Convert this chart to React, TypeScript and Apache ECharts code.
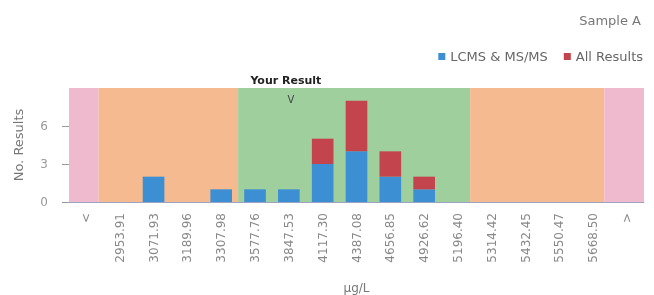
import React, { useEffect, useRef } from "react";
import * as echarts from "echarts";

const categories = [
  "<", "2953.91", "3071.93", "3189.96", "3307.98", "3577.76", "3847.53", "4117.30",
  "4387.08", "4656.85", "4926.62", "5196.40", "5314.42", "5432.45", "5550.47", "5668.50", ">",
];
const lcmsValues = [0, 0, 2, 0, 1, 1, 1, 3, 4, 2, 1, 0, 0, 0, 0, 0, 0];
const allResultsExtra = [0, 0, 0, 0, 0, 0, 0, 2, 4, 2, 1, 0, 0, 0, 0, 0, 0];
const yTicks = [0, 3, 6, 9];
// zone boundaries in category-slot units (0 .. 17)
const zoneRanges: [number, number][] = [[0, 0.88], [0.88, 5], [5, 11.86], [11.86, 15.83], [15.83, 17]];
const zoneKinds = ["outer", "warn", "ok", "warn", "outer"];
const yourResultCategory = "3847.53";

const zoneColor: Record<string, string> = {
  outer: "#efbacd",
  warn: "#f5ba8f",
  ok: "#9fcf9c",
};

export default function App() {
  const ref = useRef<HTMLDivElement>(null);
  useEffect(() => {
    if (!ref.current) return;
    const chart = echarts.init(ref.current, undefined, { renderer: "svg" });
    const font = "'DejaVu Sans', 'Liberation Sans', Arial, sans-serif";
    chart.setOption({
      animation: false,
      textStyle: { fontFamily: font },
      title: {
        text: "Sample A",
        right: 8,
        top: 9,
        textStyle: { fontSize: 13, fontWeight: "normal", color: "#777", fontFamily: font },
      },
      legend: {
        data: ["LCMS & MS/MS", "All Results"],
        right: 6,
        top: 45,
        itemWidth: 7,
        itemHeight: 7,
        itemGap: 16,
        icon: "rect",
        textStyle: { fontSize: 13, color: "#666", fontFamily: font },
      },
      grid: { left: 69, right: 10, top: 88, bottom: 93 },
      xAxis: [
        {
          type: "category",
          data: categories,
          name: "µg/L",
          nameLocation: "middle",
          nameGap: 80,
          nameTextStyle: { fontSize: 12, color: "#777" },
          axisLine: { lineStyle: { color: "#9aa3c0", width: 1 } },
          axisTick: { show: false },
          axisLabel: { rotate: 90, fontSize: 12, color: "#888", margin: 11, interval: 0 },
        },
        {
          type: "value",
          min: 0,
          max: 17,
          show: false,
        },
      ],
      yAxis: {
        type: "value",
        min: yTicks[0],
        max: yTicks[yTicks.length - 1],
        interval: 3,
        name: "No. Results",
        nameLocation: "middle",
        nameGap: 44,
        nameTextStyle: { fontSize: 13, color: "#777" },
        axisLine: { show: false },
        axisTick: { show: true, length: 7, lineStyle: { color: "#999" } },
        splitLine: { show: false },
        axisLabel: { fontSize: 12, color: "#999", margin: 21, showMaxLabel: false },
      },
      series: [
        {
          type: "line",
          xAxisIndex: 1,
          data: [],
          silent: true,
          markArea: {
            silent: true,
            data: zoneRanges.map((r, i) => [
              { xAxis: r[0], itemStyle: { color: zoneColor[zoneKinds[i]] } },
              { xAxis: r[1] },
            ]),
          },
        },
        {
          name: "LCMS & MS/MS",
          type: "bar",
          stack: "a",
          barWidth: "64%",
          data: lcmsValues,
          itemStyle: { color: "#3d8fd4" },
          markPoint: {
            symbol: "circle",
            symbolSize: 0,
            data: [
              {
                coord: [yourResultCategory, yTicks[yTicks.length - 1]],
                label: {
                  show: true,
                  formatter: "Your Result",
                  position: "inside",
                  offset: [-3, -8],
                  fontSize: 11,
                  fontWeight: "bold",
                  color: "#222",
                  fontFamily: font,
                },
              },
              {
                coord: [yourResultCategory, yTicks[yTicks.length - 1]],
                label: {
                  show: true,
                  formatter: "V",
                  position: "inside",
                  offset: [2, 11],
                  fontSize: 10,
                  color: "#444",
                },
              },
            ],
          },
        },
        {
          name: "All Results",
          type: "bar",
          stack: "a",
          barWidth: "64%",
          data: allResultsExtra,
          itemStyle: { color: "#c4444e" },
        },
      ],
    });
    return () => chart.dispose();
  }, []);
  return (
    <div
      ref={ref}
      style={{ position: "fixed", left: 0, top: 0, width: 654, height: 295 }}
    />
  );
}
